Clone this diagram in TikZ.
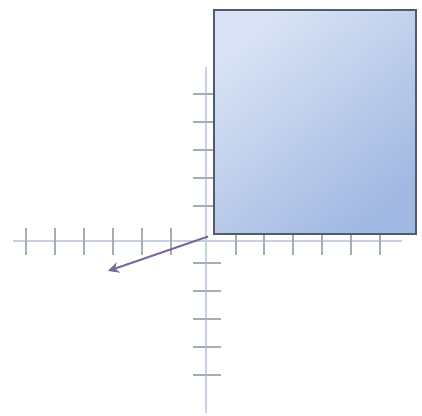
\documentclass[tikz,border=0pt]{standalone}
\usetikzlibrary{arrows.meta}
\definecolor{axisc}{HTML}{C6D0DE}
\definecolor{tickc}{HTML}{A4ACB6}
\definecolor{boxline}{HTML}{4E5C6E}
\definecolor{boxlight}{HTML}{D8E2F4}
\definecolor{boxdark}{HTML}{A2B9E3}
\definecolor{arrowc}{HTML}{776C97}
\begin{document}
\begin{tikzpicture}[
        x=1pt, y=-1pt,
        axis/.style={draw=axisc, line width=2.5pt},
        tick/.style={draw=tickc, line width=1.2pt},
        boxn/.style={draw=boxline, line width=1.5pt, rectangle, minimum width=202pt, minimum height=224pt, anchor=north west, inner sep=0pt,
            shading=axis, top color=boxlight, bottom color=boxdark, shading angle=40},
        vec/.style={draw=arrowc, line width=2pt, -{Stealth[length=11pt,width=11pt]}},
    ]
    \useasboundingbox (0,0) rectangle (422,415);
    \coordinate (origin) at (206,241);
    % axes
    \draw[axis] (13,241) -- (402,241);
    \draw[axis] (206,67) -- (206,413);
    % ticks
    \foreach \x in {26,55,84,113,142,171,236,264,293,322,351,380}
        \draw[tick] (\x,228) -- (\x,255);
    \foreach \y in {94,122,150,178,206,263,291,319,347,375}
        \draw[tick] (193,\y) -- (221,\y);
    % square
    \node[boxn] (box) at (213,9) {};
    % vector
    \coordinate (tip) at (108,271);
    \draw[vec] (box.south west) ++(-5,2) coordinate (tail) -- (tip);
    \end{tikzpicture}
\end{document}
